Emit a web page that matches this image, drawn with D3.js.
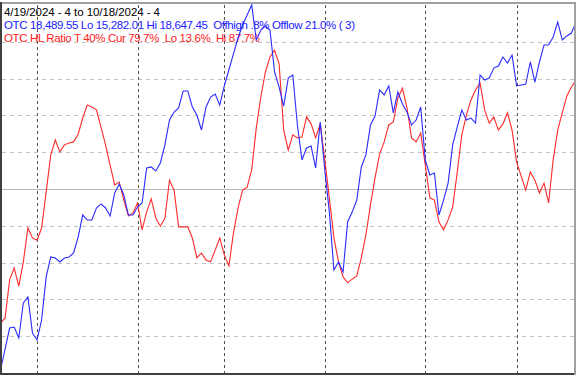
<!DOCTYPE html>
<html>
<head>
<meta charset="utf-8">
<script src="https://cdn.jsdelivr.net/npm/d3@7"></script>
<style>
  body { margin: 0; background: #fff; }
  svg { display: block; }
  text { font-family: "Liberation Sans", Arial, sans-serif; font-size: 11.5px; white-space: pre; }
</style>
</head>
<body>
<script>
// OTC (Nasdaq) close vs high/low ratio, one value per trading day 4/19/2024 .. 10/18/2024
var otc = [15282, 15475, 15669, 15678, 15577, 15900, 15955, 15623, 15559, 15743,
  16140, 16324, 16315, 16278, 16315, 16324, 16361, 16508, 16711, 16665,
  16665, 16776, 16813, 16776, 16702, 16914, 16997, 16896, 16711, 16711,
  16785, 16822, 17144, 17154, 17117, 17191, 17357, 17587, 17661, 17698,
  17855, 17855, 17707, 17633, 17495, 17707, 17799, 17827, 17725, 17901,
  18048, 18196, 18343, 18463, 18555, 18647.45, 18325, 18417, 18454, 18417,
  18030, 17891, 17716, 17974, 18002, 17541, 17218, 17329, 17347, 17144,
  17568, 17126, 16738, 16204, 16278, 16186, 16647, 16738, 16849, 17154,
  17265, 17541, 17624, 17864, 17818, 17901, 17652, 17845, 17735, 17661,
  17541, 17587, 17707, 17218, 17080, 17098, 16711, 16849, 17006, 17357,
  17523, 17679, 17587, 17605, 17559, 18002, 17956, 17974, 18066, 18085,
  18168, 18113, 18186, 17901, 17910, 17919, 18122, 17937, 18122, 18279,
  18279, 18353, 18491, 18325, 18362, 18389, 18489.55];

var hlRatio = [13.6, 14.9, 25.3, 28.5, 23.6, 30.2, 39.4, 36.7, 36.1, 39.4,
  49.2, 59.2, 63.3, 60.1, 62.0, 62.5, 62.8, 64.9, 69.3, 72.8,
  72.3, 71.5, 66.8, 62.0, 56.5, 51.1, 51.9, 47.0, 42.7, 43.5,
  46.2, 38.9, 43.8, 47.3, 42.1, 39.9, 42.1, 52.4, 49.7, 39.7,
  39.7, 39.7, 36.7, 31.3, 32.6, 30.7, 30.2, 33.4, 36.7, 32.1,
  29.1, 38.0, 44.8, 49.7, 50.5, 55.2, 66.6, 75.0, 81.8, 85.9,
  87.7, 84.0, 66.0, 60.6, 64.7, 63.9, 64.1, 69.6, 67.7, 63.9,
  67.7, 57.9, 47.6, 36.7, 30.2, 26.1, 24.5, 25.5, 26.4, 31.3,
  37.5, 45.7, 53.0, 59.5, 62.8, 67.4, 68.2, 74.7, 77.4, 72.0,
  63.9, 62.8, 65.2, 56.5, 47.6, 47.0, 41.0, 38.9, 41.6, 45.1,
  54.6, 64.7, 70.1, 74.2, 76.9, 78.8, 71.5, 67.9, 69.6, 66.0,
  67.7, 70.7, 66.0, 57.3, 53.5, 49.7, 54.6, 52.4, 48.9, 51.6,
  46.2, 57.9, 66.0, 70.7, 75.3, 77.7, 79.7];

// first trading day of each month (index into the series)
var monthStarts = [8, 30, 49, 71, 93, 113];
var pctTicks = [10, 20, 30, 40, 60, 70, 80, 90];

var titleLines = [
  {text: "4/19/2024 - 4 to 10/18/2024 - 4", color: "#000"},
  {text: "OTC 18,489.55 Lo 15,282.01 Hi 18,647.45  Offhigh .8% Offlow 21.0% ( 3)", color: "#2020ff"},
  {text: "OTC HL Ratio T 40% Cur 79.7%  Lo 13.6%  Hi 87.7%", color: "#ff2020"}
];

var width = 576, height = 375;

var svg = d3.select("body").append("svg")
    .attr("width", width)
    .attr("height", height);

var x = d3.scaleLinear()
    .domain([0, otc.length - 1])
    .range([0.5, 576]);

var yPct = d3.scaleLinear()
    .domain([0, 100])
    .range([373, 5]);

var yOtc = d3.scaleLinear()
    .domain([d3.min(otc), d3.max(otc)])
    .range([370, 5]);

svg.append("clipPath").attr("id", "clip")
  .append("rect")
    .attr("x", 1).attr("y", 3)
    .attr("width", 573).attr("height", 370);

// horizontal grid
svg.append("g").selectAll("line")
    .data(pctTicks)
  .enter().append("line")
    .attr("x1", 2).attr("x2", 574)
    .attr("y1", function(d) { return Math.round(yPct(d)) + 0.5 })
    .attr("y2", function(d) { return Math.round(yPct(d)) + 0.5 })
    .attr("stroke", "#c4c4c4")
    .attr("stroke-dasharray", "4,4");

svg.append("line")
    .attr("x1", 2).attr("x2", 574)
    .attr("y1", Math.round(yPct(50)) + 0.5)
    .attr("y2", Math.round(yPct(50)) + 0.5)
    .attr("stroke", "#b8b8b8");

// month separators
svg.append("g").selectAll("line")
    .data(monthStarts)
  .enter().append("line")
    .attr("x1", function(d) { return Math.round(x(d)) + 0.5 })
    .attr("x2", function(d) { return Math.round(x(d)) + 0.5 })
    .attr("y1", 5).attr("y2", 373)
    .attr("stroke", "#505050")
    .attr("stroke-dasharray", "3,3");

// header text, stretched to the widths seen in the original
var lineWidths = [156, 351, 256];
svg.append("g").selectAll("text")
    .data(titleLines)
  .enter().append("text")
    .attr("x", 4)
    .attr("y", function(d, i) { return 16 + i * 13 })
    .attr("textLength", function(d, i) { return lineWidths[i] })
    .attr("lengthAdjust", "spacing")
    .attr("fill", function(d) { return d.color })
    .text(function(d) { return d.text });

var plot = svg.append("g").attr("clip-path", "url(#clip)");

plot.append("path")
    .datum(hlRatio)
    .attr("fill", "none")
    .attr("stroke", "#ff2a2a")
    .attr("stroke-width", 1.1)
    .attr("d", d3.line()
      .x(function(d, i) { return x(i) })
      .y(function(d) { return yPct(d) }));

plot.append("path")
    .datum(otc)
    .attr("fill", "none")
    .attr("stroke", "#2a2aff")
    .attr("stroke-width", 1.1)
    .attr("d", d3.line()
      .x(function(d, i) { return x(i) })
      .y(function(d) { return yOtc(d) }));

// frame
svg.append("line").attr("x1", 0).attr("x2", 576).attr("y1", 3).attr("y2", 3)
    .attr("stroke", "#a0a0a0").attr("stroke-width", 2);
svg.append("line").attr("x1", 1).attr("x2", 1).attr("y1", 2).attr("y2", 375)
    .attr("stroke", "#404040").attr("stroke-width", 2);
svg.append("line").attr("x1", 0).attr("x2", 576).attr("y1", 374).attr("y2", 374)
    .attr("stroke", "#404040").attr("stroke-width", 2);
svg.append("line").attr("x1", 575).attr("x2", 575).attr("y1", 2).attr("y2", 375)
    .attr("stroke", "#a0a0a0").attr("stroke-width", 2);
</script>
</body>
</html>
